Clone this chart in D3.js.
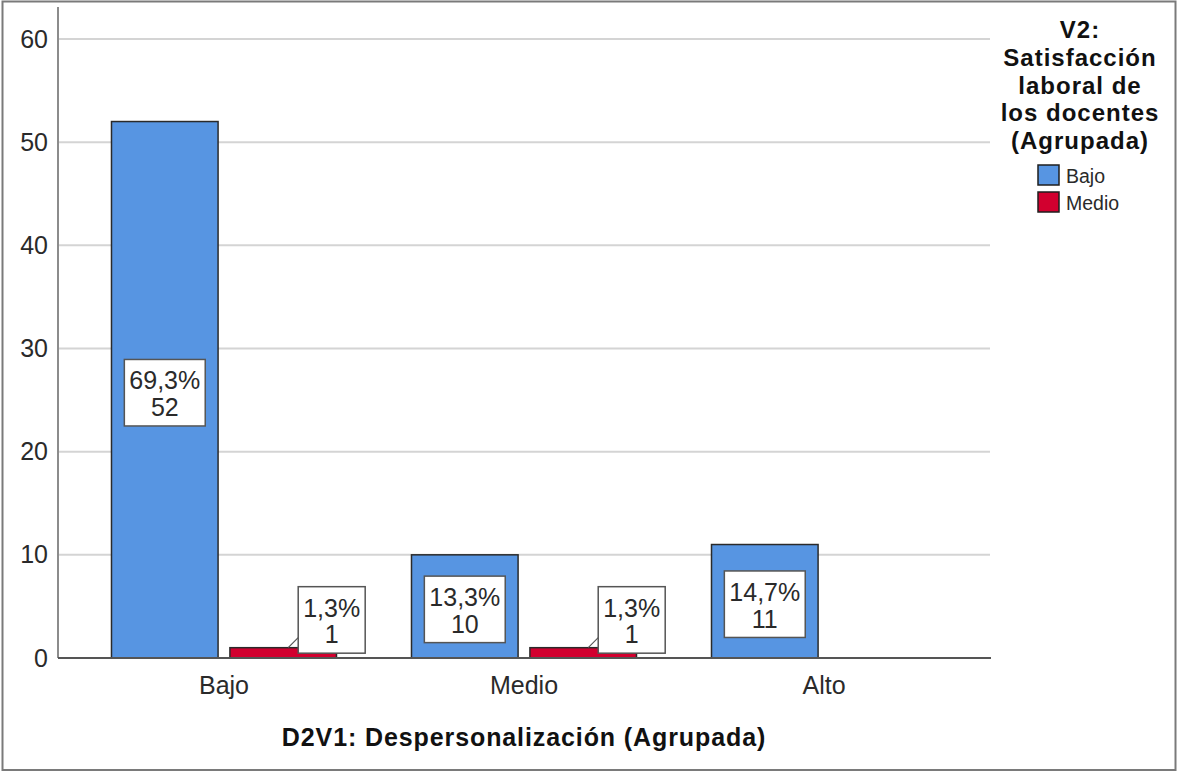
<!DOCTYPE html>
<html>
<head>
<meta charset="utf-8">
<script src="https://cdn.jsdelivr.net/npm/d3@7"></script>
<style>
  html, body { margin: 0; padding: 0; background: #fff; }
  svg { display: block; font-family: "Liberation Sans", Arial, sans-serif; }
</style>
</head>
<body>
<svg id="chart" width="1177" height="772"></svg>
<script>
// Categories on the x axis (D2V1) and the grouping variable (V2)
const categories = ["Bajo", "Medio", "Alto"];
const seriesNames = ["Bajo", "Medio"];
// Counts per category for each V2 group
const countsBajo = [52, 10, 11];
const countsMedio = [1, 1, 0];
const yTicks = [0, 10, 20, 30, 40, 50, 60];
const xTitle = "D2V1: Despersonalización (Agrupada)";
const legendTitle = ["V2:", "Satisfacción", "laboral de", "los docentes", "(Agrupada)"];
const seriesColors = ["#5795e2", "#d2002f"];

const seriesCounts = [countsBajo, countsMedio];
const total = d3.sum(seriesCounts.flat());

const svg = d3.select("#chart");

// outer frame
svg.append("rect")
  .attr("x", 2.5).attr("y", 1.5).attr("width", 1173).attr("height", 768.5)
  .attr("fill", "#fff").attr("stroke", "#7a7a7a").attr("stroke-width", 2);

const plot = { left: 58, right: 990, top: 7, bottom: 658 };

const y = d3.scaleLinear().domain([0, 60]).range([plot.bottom, 39]);
const x0 = d3.scaleBand().domain(categories)
  .range([plot.left, plot.right]).paddingInner(0).paddingOuter(0.0533);
const x1 = d3.scaleBand().domain(seriesNames)
  .range([x0.bandwidth() * 0.125, x0.bandwidth() * 0.875]).paddingInner(0.1);

// gridlines
svg.append("g").selectAll("line")
  .data(yTicks.filter(t => t > 0))
  .join("line")
  .attr("x1", plot.left).attr("x2", plot.right)
  .attr("y1", d => y(d)).attr("y2", d => y(d))
  .attr("stroke", "#d4d4d4").attr("stroke-width", 2);

// y axis
const yAxis = d3.axisLeft(y).tickValues(yTicks).tickSize(0).tickPadding(10);
const gy = svg.append("g").attr("transform", `translate(${plot.left},0)`).call(yAxis);
gy.select(".domain").remove();
gy.selectAll("text")
  .attr("font-size", 25).attr("fill", "#2a2a2a")
  .attr("font-family", "Liberation Sans, Arial, sans-serif");
svg.append("line")
  .attr("x1", plot.left).attr("x2", plot.left)
  .attr("y1", plot.top).attr("y2", plot.bottom)
  .attr("stroke", "#8c8c8c").attr("stroke-width", 2);

// bars
const barData = [];
categories.forEach((c, i) => {
  seriesNames.forEach((s, j) => {
    const v = seriesCounts[j][i];
    if (v > 0) barData.push({ cat: c, series: s, idx: j, value: v });
  });
});

svg.append("g").selectAll("rect")
  .data(barData)
  .join("rect")
  .attr("x", d => x0(d.cat) + x1(d.series))
  .attr("y", d => y(d.value))
  .attr("width", x1.bandwidth())
  .attr("height", d => y(0) - y(d.value))
  .attr("fill", d => seriesColors[d.idx])
  .attr("stroke", "#2a2a2a").attr("stroke-width", 1.5);

// x axis line
svg.append("line")
  .attr("x1", plot.left).attr("x2", plot.right + 1)
  .attr("y1", plot.bottom).attr("y2", plot.bottom)
  .attr("stroke", "#555").attr("stroke-width", 2);

// category labels
const xAxis = d3.axisBottom(x0).tickSize(0).tickPadding(18);
const gx = svg.append("g").attr("transform", `translate(0,${plot.bottom})`).call(xAxis);
gx.select(".domain").remove();
gx.selectAll("text")
  .attr("font-size", 25).attr("fill", "#2a2a2a")
  .attr("font-family", "Liberation Sans, Arial, sans-serif");

// value labels: percentage and count in a white box
const fmtLocale = d3.formatLocale({ decimal: ",", thousands: ".", grouping: [3], currency: ["", ""] });
const pctFmt = fmtLocale.format(".1f");
const labels = svg.append("g");
barData.forEach(d => {
  const cx = x0(d.cat) + x1(d.series) + x1.bandwidth() / 2;
  const barTop = y(d.value);
  const g = labels.append("g");
  const t = g.append("text")
    .attr("text-anchor", "middle")
    .attr("font-size", 25).attr("fill", "#2a2a2a");
  t.append("tspan").attr("x", 0).attr("y", 0).text(pctFmt(d.value / total * 100) + "%");
  t.append("tspan").attr("x", 0).attr("y", 26.7).text(d.value);
  const bb = t.node().getBBox();
  const bw = bb.width + 10, bh = 66.5;
  g.insert("rect", "text")
    .attr("x", -bw / 2).attr("y", -30).attr("width", bw).attr("height", bh)
    .attr("fill", "#fff").attr("stroke", "#555").attr("stroke-width", 1.5);
  const barH = y(0) - barTop;
  if (barH > bh + 10) {
    const cy = y(d.value / 2) + 3;
    g.attr("transform", `translate(${cx},${cy - 3.3})`);
  } else {
    // callout placed up and to the right of a short bar
    const bx = cx + 15 + bw / 2;
    const by = barTop - 61 + 30;
    labels.insert("line", "g")
      .attr("x1", cx + 5).attr("y1", barTop)
      .attr("x2", cx + 15).attr("y2", barTop - 10)
      .attr("stroke", "#555").attr("stroke-width", 1.2);
    g.attr("transform", `translate(${bx},${by})`);
  }
});

// x axis title
svg.append("text")
  .attr("x", (plot.left + plot.right) / 2).attr("y", 746)
  .attr("text-anchor", "middle")
  .attr("font-size", 25).attr("font-weight", "bold").attr("fill", "#111")
  .attr("letter-spacing", 0.9)
  .text(xTitle);

// legend
const lg = svg.append("g");
lg.selectAll("text.title")
  .data(legendTitle)
  .join("text")
  .attr("class", "title")
  .attr("x", 1080).attr("y", (d, i) => 38.3 + i * 27.7)
  .attr("text-anchor", "middle")
  .attr("font-size", 24).attr("font-weight", "bold").attr("fill", "#111")
  .attr("letter-spacing", 1)
  .text(d => d);

const items = lg.selectAll("g.item")
  .data(seriesNames)
  .join("g")
  .attr("class", "item")
  .attr("transform", (d, i) => `translate(1038,${165 + i * 27})`);
items.append("rect")
  .attr("width", 21).attr("height", 20)
  .attr("fill", (d, i) => seriesColors[i])
  .attr("stroke", "#1e1e1e").attr("stroke-width", 1.5);
items.append("text")
  .attr("x", 28).attr("y", 18)
  .attr("font-size", 19.5).attr("fill", "#2a2a2a")
  .text(d => d);
</script>
</body>
</html>
